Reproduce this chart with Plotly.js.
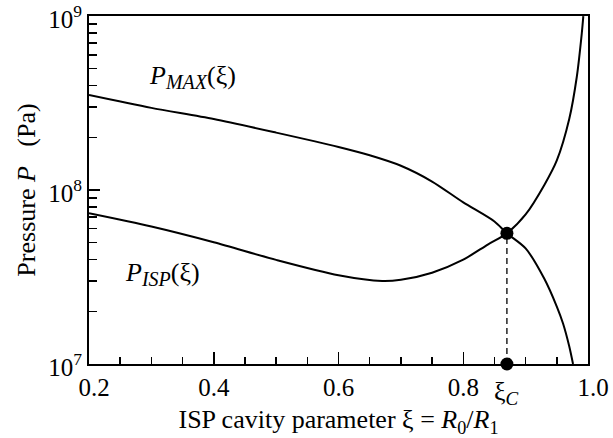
<!DOCTYPE html>
<html>
<head>
<meta charset="utf-8">
<script src="https://cdn.plot.ly/plotly-3.0.1.min.js"></script>
<style>html,body{margin:0;padding:0;background:#fff;}#chart{width:613px;height:438px;}</style>
</head>
<body>
<div id="chart"></div>
<script>
// P_MAX(xi) curve
const xiMax = [0.2, 0.3, 0.4, 0.5, 0.6, 0.65, 0.7, 0.75, 0.8, 0.85, 0.87, 0.9, 0.93, 0.95, 0.96, 0.97, 0.976];
const pMax  = [3.52e8, 2.97e8, 2.56e8, 2.14e8, 1.77e8, 1.585e8, 1.38e8, 1.12e8, 8.5e7, 6.6e7, 5.64e7, 4.62e7, 3.09e7, 2.14e7, 1.71e7, 1.26e7, 1.0e7];
// P_ISP(xi) curve
const xiIsp = [0.2, 0.3, 0.4, 0.5, 0.6, 0.67, 0.7, 0.75, 0.8, 0.84, 0.87, 0.9, 0.93, 0.95, 0.97, 0.982, 0.99, 0.9925];
const pIsp  = [7.35e7, 6.17e7, 5.01e7, 3.97e7, 3.24e7, 3.0e7, 3.05e7, 3.35e7, 3.98e7, 4.88e7, 5.64e7, 7.24e7, 1.07e8, 1.48e8, 2.57e8, 4.47e8, 7.94e8, 1.0e9];
// critical point
const xiC = 0.87;
const pC = 5.64e7;
const pBottom = 1.0e7;
// tick labels
const xTickVals = [0.2, 0.4, 0.6, 0.8, 1.0];
const xTickText = ["\u2009\u20090.2", "0.4", "0.6", "0.8", "\u2009\u20091.0"];
const yTickVals = [1e7, 1e8, 1e9];
const yTickText = ["10<sup>7</sup>", "10<sup>8</sup>", "10<sup>9</sup>"];
const yMinorVals = [2e7,3e7,4e7,5e7,6e7,7e7,8e7,9e7,2e8,3e8,4e8,5e8,6e8,7e8,8e8,9e8];

const FONT = '"Liberation Serif", "Times New Roman", serif';

const traces = [
  {x: xiMax, y: pMax, mode: 'lines', line: {color: '#000', width: 2, shape: 'spline', smoothing: 0.8}, showlegend: false, hoverinfo: 'skip'},
  {x: xiIsp, y: pIsp, mode: 'lines', line: {color: '#000', width: 2, shape: 'spline', smoothing: 0.8}, showlegend: false, hoverinfo: 'skip'},
  {x: [xiC, xiC], y: [pBottom, pC], mode: 'lines', line: {color: '#000', width: 1.3, dash: '6px,4px'}, showlegend: false, hoverinfo: 'skip'},
  {x: [xiC, xiC], y: [pBottom, pC], mode: 'markers', marker: {color: '#000', size: 13}, cliponaxis: false, showlegend: false, hoverinfo: 'skip'}
];

const layout = {
  width: 613, height: 438,
  margin: {l: 89, r: 25, t: 16, b: 74},
  paper_bgcolor: '#fff', plot_bgcolor: '#fff',
  font: {family: FONT, color: '#000', size: 24},
  xaxis: {
    range: [0.2, 1.0], tickmode: 'array', tickvals: xTickVals, ticktext: xTickText,
    ticks: 'inside', ticklen: 12, tickwidth: 1.5, tickcolor: '#000',
    minor: {dtick: 0.05, ticks: 'inside', ticklen: 7, tickwidth: 1.5, tickcolor: '#000', showgrid: false},
    showline: true, linewidth: 2, linecolor: '#000', mirror: true,
    showgrid: false, zeroline: false, ticklabeloverflow: 'allow',
    tickfont: {size: 25, family: FONT, color: '#000'},
    title: {text: 'ISP cavity parameter ξ = <i>R</i><sub>0</sub>/<i>R</i><sub>1</sub>', font: {size: 26, family: FONT}, standoff: 10}
  },
  yaxis: {
    type: 'log', range: [7, 9.001], tickmode: 'array', tickvals: yTickVals, ticktext: yTickText,
    ticks: 'inside', ticklen: 11, tickwidth: 1.5, tickcolor: '#000',
    minor: {tickmode: 'array', tickvals: yMinorVals, ticks: 'inside', ticklen: 8, tickwidth: 1.5, tickcolor: '#000', showgrid: false},
    showline: true, linewidth: 2, linecolor: '#000', mirror: true,
    showgrid: false, zeroline: false, ticklabeloverflow: 'allow', ticklabelshift: 3,
    tickfont: {size: 25, family: FONT, color: '#000'},
    title: {text: 'Pressure <i>P</i>\u00a0\u00a0\u00a0(Pa)', font: {size: 26, family: FONT}, standoff: 5}
  },
  annotations: [
    {x: 0.2925, y: Math.log10(4.45e8), xref: 'x', yref: 'y', text: '<i>P</i><sub><span style="font-size:20px"><i>MAX</i></span></sub>(ξ)', showarrow: false, xanchor: 'left', yanchor: 'middle', font: {size: 26, family: FONT}},
    {x: 0.2545, y: Math.log10(3.3e7), xref: 'x', yref: 'y', text: '<i>P</i><sub><span style="font-size:20px"><i>ISP</i></span></sub>(ξ)', showarrow: false, xanchor: 'left', yanchor: 'middle', font: {size: 26, family: FONT}},
    {x: xiC, y: -0.083, xref: 'x', yref: 'paper', text: 'ξ<sub><span style="font-size:19px"><i>C</i></span></sub>', showarrow: false, xanchor: 'center', yanchor: 'middle', font: {size: 26, family: FONT}}
  ]
};

Plotly.newPlot('chart', traces, layout, {staticPlot: true, displayModeBar: false});
</script>
</body>
</html>
